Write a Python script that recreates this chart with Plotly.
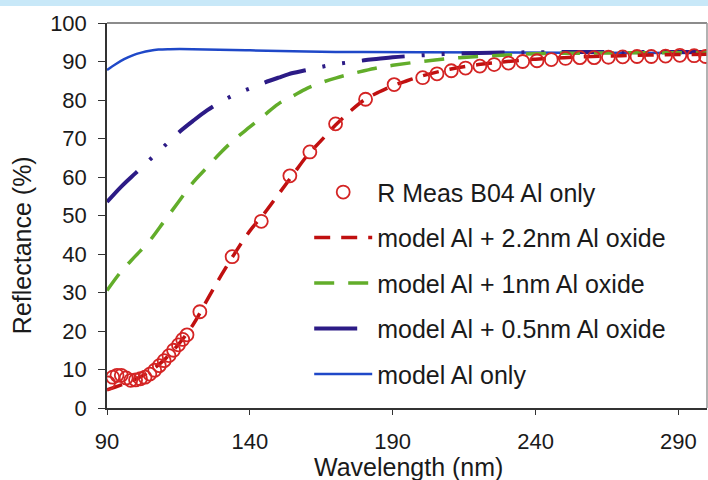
import plotly.graph_objects as go

# ---- data ----
meas_wl = [90.5, 92, 93.5, 95, 96.7, 98.3, 100, 101.7, 103.3, 105, 106.7, 108.3, 110, 111.7,
           113.3, 115, 116.5, 118, 122.5, 133.8, 144, 154, 161, 170, 180.5, 190.5, 200.5,
           205.5, 210.5, 215.5, 220.5, 225.5, 230.5, 235.5, 240.5, 245.5, 250.5, 255.5,
           260.5, 265.5, 270.5, 275.5, 280.5, 285.5, 290.5, 295.5, 299.5]
meas_r = [6.5, 8, 8.5, 8.5, 7.8, 7.2, 7.3, 7.6, 8.0, 8.8, 9.8, 11, 12.3, 13.6,
          15, 16.4, 17.8, 19, 25, 39.3, 48.5, 60.3, 66.5, 73.8, 80.2, 84, 85.8,
          86.8, 87.6, 88.3, 88.8, 89.2, 89.6, 90, 90.2, 90.5, 90.8, 91,
          91, 91.1, 91.2, 91.3, 91.3, 91.4, 91.6, 91.5, 91.3]

m22_wl = [90, 95, 100, 105, 110, 115, 120, 125, 130, 135, 140, 145, 150, 155, 160, 165, 170,
          175, 180, 185, 190, 195, 200, 210, 220, 230, 240, 250, 260, 270, 280, 290, 300]
m22_r = [4.7, 6, 7.5, 9.5, 12.5, 16.5, 21.5, 28, 34.5, 40.5, 46, 50.5, 55.5, 60.5, 65.5, 69.5,
         73.5, 77, 80, 82, 83.7, 85, 86.2, 88, 89.2, 90, 90.6, 91, 91.3, 91.5, 91.7, 91.8, 91.9]

m10_wl = [90, 95, 100, 105, 110, 115, 120, 125, 130, 135, 140, 145, 150, 155, 160, 165, 170,
          175, 180, 185, 190, 200, 210, 220, 230, 240, 260, 300]
m10_r = [30.5, 35.5, 39.5, 43.5, 48.5, 53.5, 58.5, 62.5, 66.5, 70, 73, 76, 79, 81, 83, 84.5,
         85.7, 86.7, 87.6, 88.4, 89, 90, 90.8, 91.3, 91.7, 92, 92.2, 92.3]

m05_wl = [90, 95, 100, 105, 110, 115, 120, 125, 130, 135, 140, 145, 150, 155, 160, 165, 170,
          175, 180, 185, 190, 200, 210, 220, 240, 300]
m05_r = [53.5, 57.5, 61, 64.5, 68, 71.5, 74.5, 77.3, 79.6, 81.5, 83, 84.5, 85.8, 87, 87.8,
         88.6, 89.3, 89.8, 90.3, 90.7, 91.1, 91.6, 92, 92.2, 92.4, 92.5]

al_wl = [90, 93, 96, 99, 102, 105, 108, 112, 120, 140, 170, 200, 250, 300]
al_r = [87.8, 89.3, 90.6, 91.6, 92.3, 92.8, 93.1, 93.2, 93.2, 92.9, 92.5, 92.4, 92.3, 92.2]

x_ticks = [90, 140, 190, 240, 290]
y_ticks = [0, 10, 20, 30, 40, 50, 60, 70, 80, 90, 100]

FONT = "Liberation Sans, Arial, sans-serif"
TXT = "#1a1a1a"

fig = go.Figure()
fig.add_trace(go.Scatter(x=al_wl, y=al_r, mode="lines", name="model Al only",
                         line=dict(color="#1f48c8", width=2.5, shape="spline"),
                         legendgroup="e", legendrank=5))
fig.add_trace(go.Scatter(x=m05_wl, y=m05_r, mode="lines", name="model Al + 0.5nm Al oxide",
                         line=dict(color="#2c1b86", width=4, shape="spline",
                                   dash="43px,17px,3px,17px,3px,17px"),
                         legendgroup="d", legendrank=4))
fig.add_trace(go.Scatter(x=m10_wl, y=m10_r, mode="lines", name="model Al + 1nm Al oxide",
                         line=dict(color="#62ad2a", width=3.5, shape="spline",
                                   dash="20px,14px"),
                         legendgroup="c", legendrank=3))
fig.add_trace(go.Scatter(x=m22_wl, y=m22_r, mode="lines", name="model Al + 2.2nm Al oxide",
                         line=dict(color="#c01010", width=3.5, shape="spline",
                                   dash="16px,11px"),
                         legendgroup="b", legendrank=2))
fig.add_trace(go.Scatter(x=meas_wl, y=meas_r, mode="markers", name="R Meas B04 Al only",
                         marker=dict(symbol="circle-open", size=13, color="#d42424",
                                     line=dict(width=1.8, color="#d42424")),
                         legendgroup="a", legendrank=1))

fig.update_layout(
    width=708, height=480,
    margin=dict(l=107, r=1, t=23, b=72, autoexpand=False),
    paper_bgcolor="white", plot_bgcolor="white",
    font=dict(family=FONT, color=TXT, size=22),
    legend=dict(x=0.337, y=0.62, xanchor="left", yanchor="top",
                bgcolor="rgba(255,255,255,0)", font=dict(size=25, color=TXT),
                itemwidth=58, tracegroupgap=10),
    shapes=[
        dict(type="rect", xref="paper", yref="paper", x0=-0.2, x1=1.1,
             y0=1.0442, y1=1.08, fillcolor="#c8e8f8", line=dict(width=0), layer="below"),
        dict(type="line", xref="paper", yref="paper", x0=0, x1=1, y0=1, y1=1,
             line=dict(color="#666666", width=1.5)),
        dict(type="line", xref="paper", yref="paper", x0=1, x1=1, y0=0, y1=1,
             line=dict(color="#999999", width=1.5)),
    ],
    annotations=[
        dict(text="Reflectance (%)", textangle=-90, xref="paper", yref="paper",
             x=0, y=0.423, xanchor="center", yanchor="middle", xshift=-85,
             showarrow=False, font=dict(size=25, color=TXT)),
        dict(text="Wavelength (nm)", xref="paper", yref="paper",
             x=0.502, y=-0.153, xanchor="center", yanchor="middle",
             showarrow=False, font=dict(size=25, color=TXT)),
    ],
)
fig.update_xaxes(range=[90, 300], tickvals=x_ticks, ticktext=[str(v) for v in x_ticks],
                 showgrid=False, zeroline=False, showline=True, linecolor="#333333",
                 linewidth=1.5, ticks="outside", ticklen=5, tickcolor="#333333",
                 ticklabelstandoff=8, automargin=False)
fig.update_yaxes(range=[0, 100], tickvals=y_ticks, ticktext=[str(v) for v in y_ticks],
                 showgrid=False, zeroline=False, showline=True, linecolor="#333333",
                 linewidth=1.5, ticks="outside", ticklen=7, tickcolor="#333333",
                 ticklabelstandoff=7, automargin=False)

fig.write_html("out.html", config={"displayModeBar": False},
               post_script="document.body.style.margin='0';document.body.style.padding='0';")
